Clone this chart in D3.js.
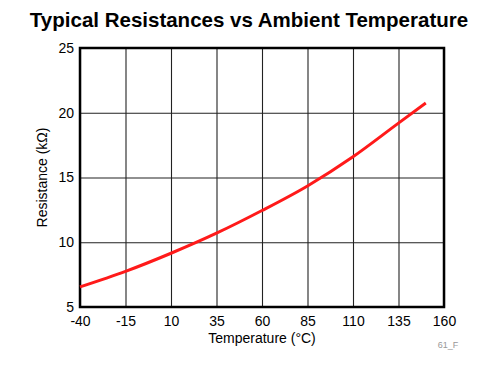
<!DOCTYPE html>
<html>
<head>
<meta charset="utf-8">
<script src="https://cdn.jsdelivr.net/npm/d3@7"></script>
<style>
  body { margin: 0; background: #fff; }
  svg { font-family: "Liberation Sans", Arial, sans-serif; }
</style>
</head>
<body>
<svg id="chart" width="500" height="372"></svg>
<script>
// values
const temps = [-40, -15, 10, 35, 60, 85, 110, 135, 150];
const resistance = [6.55, 7.75, 9.15, 10.7, 12.45, 14.35, 16.6, 19.2, 20.75];
const xTicks = [-40, -15, 10, 35, 60, 85, 110, 135, 160];
const yTicks = [5, 10, 15, 20, 25];

const svg = d3.select("#chart");
const margin = { top: 48, right: 56, bottom: 65, left: 80 };
const width = 500, height = 372;

const x = d3.scaleLinear().domain([-40, 160]).range([margin.left, width - margin.right]);
const y = d3.scaleLinear().domain([5, 25]).range([height - margin.bottom, margin.top]);

// grid
svg.append("g")
  .attr("transform", `translate(0,${height - margin.bottom})`)
  .call(d3.axisBottom(x).tickValues(xTicks).tickSize(-(height - margin.top - margin.bottom)).tickFormat(""))
  .call(g => g.select(".domain").remove())
  .call(g => g.selectAll("line").attr("stroke", "#222").attr("stroke-width", 1.1));

svg.append("g")
  .attr("transform", `translate(${margin.left},0)`)
  .call(d3.axisLeft(y).tickValues(yTicks).tickSize(-(width - margin.left - margin.right)).tickFormat(""))
  .call(g => g.select(".domain").remove())
  .call(g => g.selectAll("line").attr("stroke", "#222").attr("stroke-width", 1.1));

// tick labels (plain hyphen minus like the reference)
svg.append("g")
  .attr("transform", `translate(0,${height - margin.bottom})`)
  .call(d3.axisBottom(x).tickValues(xTicks).tickSize(0).tickPadding(9).tickFormat(d => String(d)))
  .call(g => g.select(".domain").remove())
  .call(g => g.selectAll("text").attr("font-size", 14).attr("fill", "#000").attr("font-family", "Liberation Sans, Arial, sans-serif"));

svg.append("g")
  .attr("transform", `translate(${margin.left},0)`)
  .call(d3.axisLeft(y).tickValues(yTicks).tickSize(0).tickPadding(6))
  .call(g => g.select(".domain").remove())
  .call(g => g.selectAll("text").attr("font-size", 14).attr("fill", "#000").attr("font-family", "Liberation Sans, Arial, sans-serif"));

// frame
svg.append("rect")
  .attr("x", margin.left).attr("y", margin.top)
  .attr("width", width - margin.left - margin.right)
  .attr("height", height - margin.top - margin.bottom)
  .attr("fill", "none").attr("stroke", "#000").attr("stroke-width", 2.5);

// curve
const line = d3.line()
  .x((d, i) => x(temps[i]))
  .y(d => y(d))
  .curve(d3.curveMonotoneX);

svg.append("path")
  .datum(resistance)
  .attr("d", line)
  .attr("fill", "none")
  .attr("stroke", "#ff1a1a")
  .attr("stroke-width", 3);

// titles
svg.append("text")
  .attr("x", 249).attr("y", 27)
  .attr("text-anchor", "middle")
  .attr("font-size", 20.5).attr("font-weight", "bold")
  .text("Typical Resistances vs Ambient Temperature");

svg.append("text")
  .attr("x", 262).attr("y", 343)
  .attr("text-anchor", "middle")
  .attr("font-size", 14)
  .text("Temperature (°C)");

svg.append("text")
  .attr("transform", `translate(47,${(margin.top + height - margin.bottom) / 2}) rotate(-90)`)
  .attr("text-anchor", "middle")
  .attr("font-size", 14)
  .text("Resistance (kΩ)");

svg.append("text")
  .attr("x", 448).attr("y", 348)
  .attr("text-anchor", "middle")
  .attr("font-size", 9)
  .attr("fill", "#999")
  .text("61_F");
</script>
</body>
</html>
